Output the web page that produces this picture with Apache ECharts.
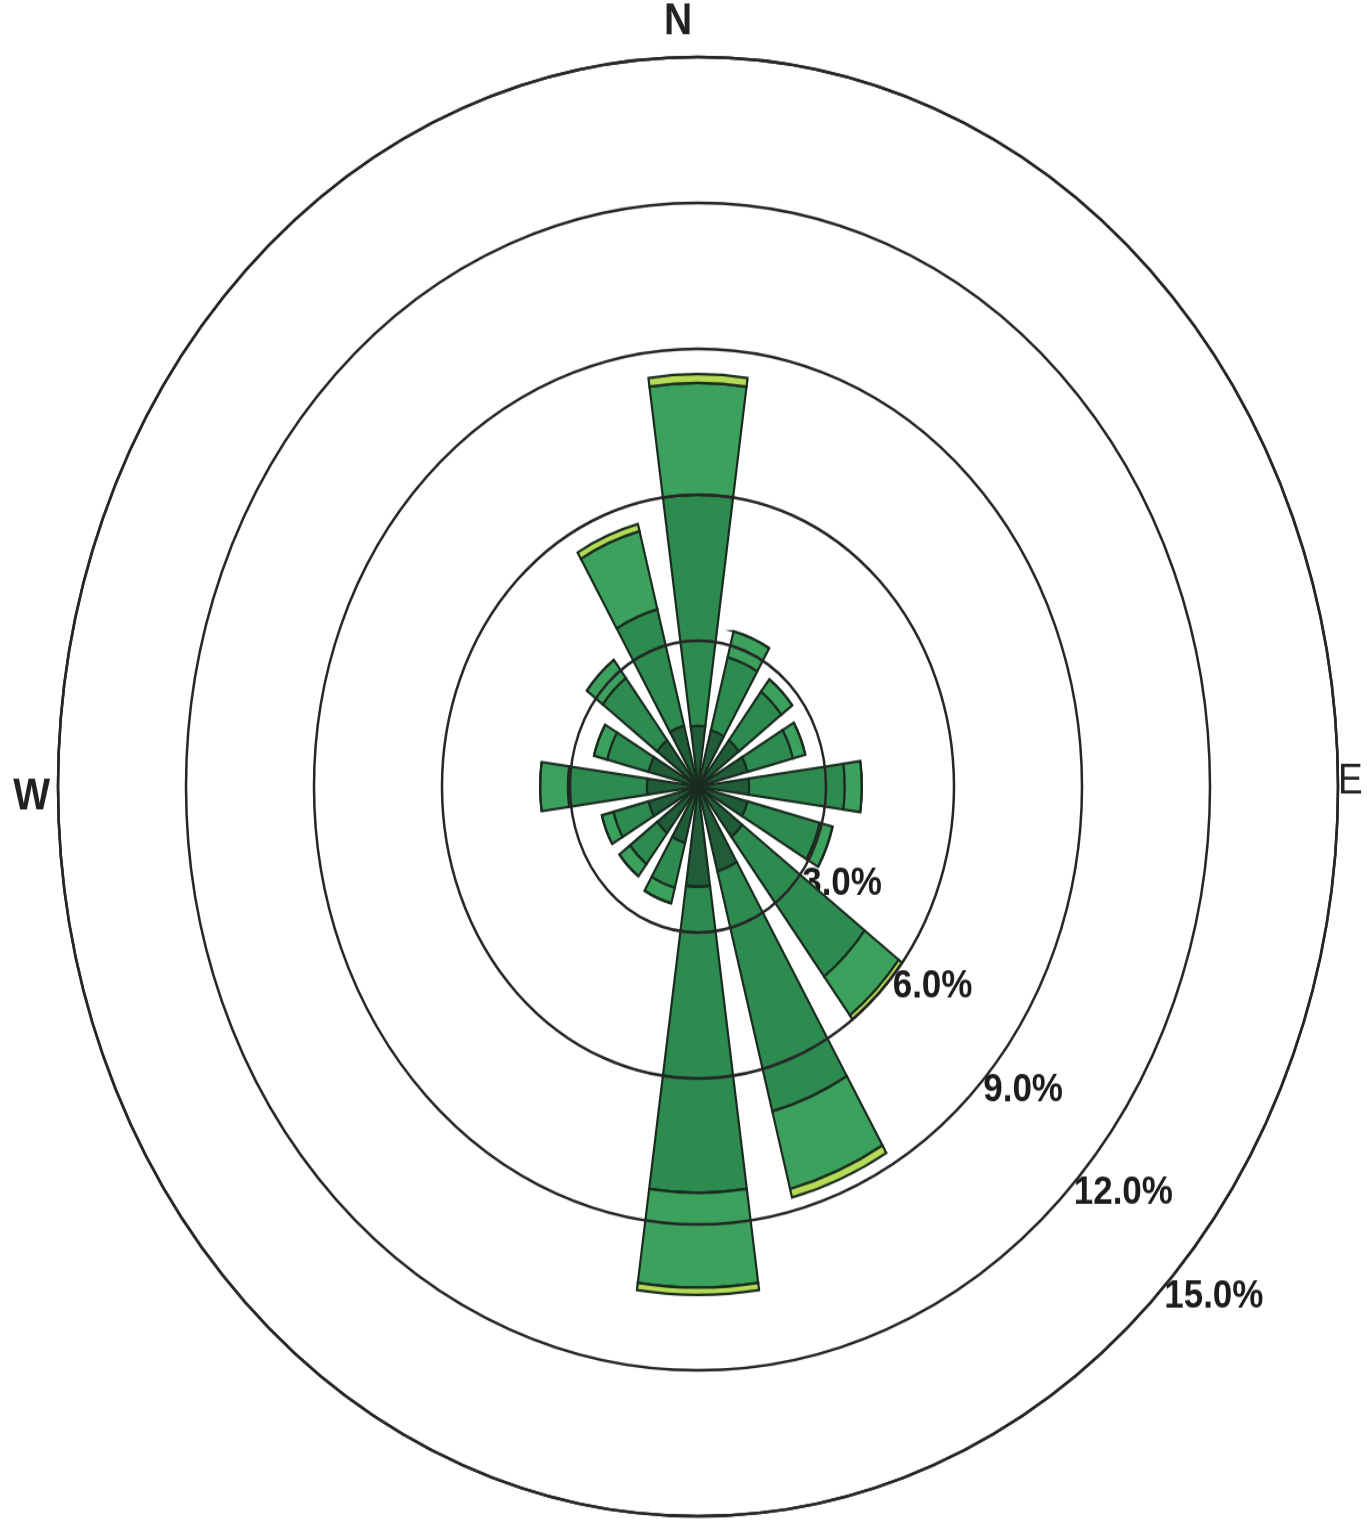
<!DOCTYPE html>
<html>
<head>
<meta charset="utf-8">
<title>Wind rose</title>
<script src="https://cdn.jsdelivr.net/npm/echarts@6/dist/echarts.min.js"></script>
<style>
  html, body { margin: 0; padding: 0; background: #fff; overflow: hidden; }
  #wrap { width: 1367px; height: 1522px; overflow: hidden; }
  /* the original rose is stretched vertically, so the chart is scaled the same way */
  #chart { width: 1367px; height: 1335px; transform: scaleY(1.14); transform-origin: 0 0; }
</style>
</head>
<body>
<div id="wrap"><div id="chart"></div></div>
<script>
const directions = ['N', 'NNE', 'NE', 'ENE', 'E', 'ESE', 'SE', 'SSE', 'S', 'SSW', 'SW', 'WSW', 'W', 'WNW', 'NW', 'NNW']
// frequency (%) per speed class, innermost class first
const class1 = [1.25, 1.2, 1.2, 1.2, 1.2, 1.2, 1.3, 1.8, 2.06, 1.2, 1.2, 1.2, 1.2, 1.2, 1.2, 1.3]
const class2 = [4.75, 1.55, 1.25, 1.1, 2.24, 1.75, 3.6, 5.1, 6.29, 0.95, 0.8, 0.85, 1.85, 1.0, 1.6, 2.47]
const class3 = [2.3, 0.55, 0.32, 0.3, 0.4, 0.31, 1.0, 1.65, 1.95, 0.33, 0.31, 0.28, 0.65, 0.32, 0.47, 1.66]
const class4 = [0.18, 0, 0, 0, 0, 0, 0.1, 0.18, 0.15, 0, 0, 0, 0, 0, 0, 0.15]
const compass = ['N', 'E', 'S', 'W']
const ringMax = 15
const ringStep = 3

const classColors = ['#215c38', '#2e8b50', '#3da15e', '#b3db55']
const lineColor = '#262626'
const font = '"Liberation Sans", Arial, sans-serif'

const myChart = echarts.init(document.getElementById('chart'))

function makeSeries(data, i) {
  return {
    type: 'bar',
    coordinateSystem: 'polar',
    polarIndex: 0,
    stack: 'rose',
    data: data,
    barCategoryGap: '30%',
    z: 2,
    itemStyle: {
      color: classColors[i],
      borderColor: '#1a2c20',
      borderWidth: 2.2
    },
    silent: true
  }
}

myChart.setOption({
  backgroundColor: '#fff',
  animation: false,
  polar: [
    { center: [698, 690], radius: 640 },
    { center: [698, 690], radius: 640 }
  ],
  angleAxis: [
    {
      polarIndex: 0,
      type: 'category',
      data: directions,
      startAngle: 90 + 360 / directions.length / 2,
      clockwise: true,
      boundaryGap: true,
      axisLine: { show: true, lineStyle: { color: lineColor, width: 2.5 } },
      axisTick: { show: false },
      splitLine: { show: false },
      axisLabel: {
        interval: 0,
        margin: 0,
        fontFamily: font,
        color: '#222',
        formatter: function(v) {
          if (compass.indexOf(v) < 0) return ''
          return '{' + v + '|' + v + '}'
        },
        rich: {
          N: { fontSize: 39, fontWeight: 'bold', fontFamily: font, color: '#222', padding: [0, 40, 11, 0] },
          E: { fontSize: 37, fontWeight: 'normal', fontFamily: font, color: '#222', padding: [0, 0, 9, 0] },
          S: { fontSize: 39, fontWeight: 'bold', fontFamily: font, color: '#222', padding: [10, 0, 0, 0] },
          W: { fontSize: 39, fontWeight: 'bold', fontFamily: font, color: '#222', padding: [18, 8, 0, 0] }
        }
      }
    },
    {
      // only used to put the ring labels on the SE diagonal
      polarIndex: 1,
      type: 'value',
      min: 0,
      max: 360,
      startAngle: -45,
      show: false
    }
  ],
  radiusAxis: [
    {
      polarIndex: 0,
      min: 0,
      max: ringMax,
      interval: ringStep,
      z: 5,
      axisLine: { show: false },
      axisTick: { show: false },
      axisLabel: { show: false },
      splitLine: { show: true, lineStyle: { color: lineColor, width: 2.5 } }
    },
    {
      polarIndex: 1,
      min: 0,
      max: ringMax,
      interval: ringStep,
      z: 1,
      axisLine: { show: false },
      axisTick: { show: false },
      splitLine: { show: false },
      axisLabel: {
        margin: 8,
        padding: [11, 0, 0, 8],
        fontSize: 35,
        fontWeight: 'bold',
        fontFamily: font,
        color: '#1c1c1c',
        formatter: function(v) {
          return v === 0 ? '' : v.toFixed(1) + '%'
        }
      }
    }
  ],
  series: [class1, class2, class3, class4].map(makeSeries)
})
</script>
</body>
</html>
